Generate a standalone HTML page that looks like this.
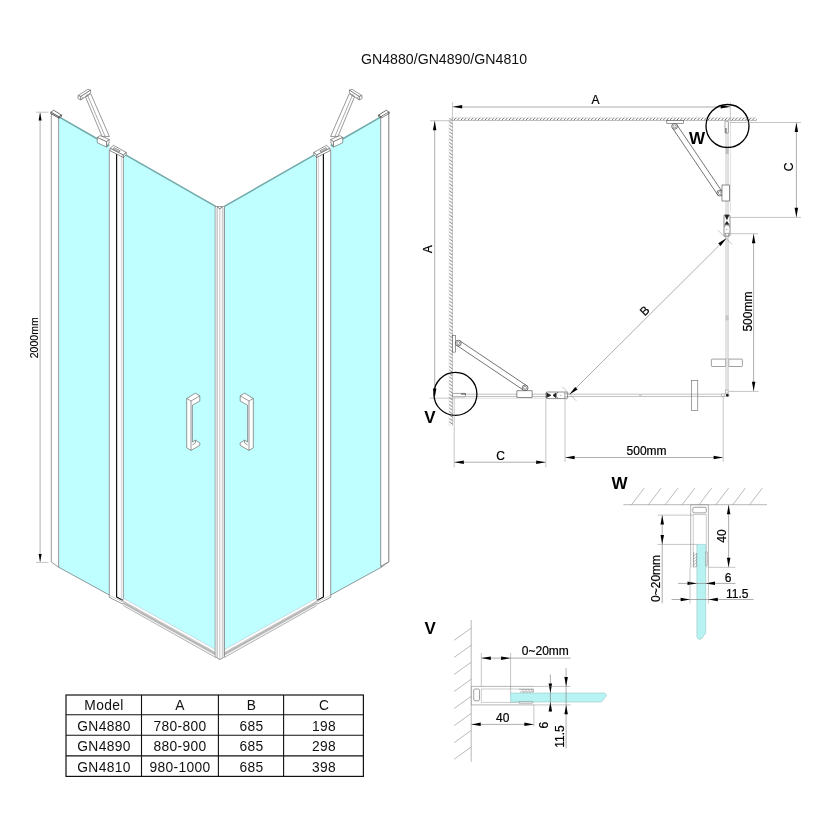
<!DOCTYPE html>
<html>
<head>
<meta charset="utf-8">
<title>GN4880/GN4890/GN4810</title>
<style>
html,body{margin:0;padding:0;background:#fff;}
body{width:830px;height:830px;overflow:hidden;font-family:"Liberation Sans",sans-serif;}
svg{display:block;will-change:transform;}
text{font-family:"Liberation Sans",sans-serif;fill:#111;}
.t12{font-size:12px;fill:#000;stroke:#000;stroke-width:0.2px;}
.b{font-weight:bold;font-size:16px;fill:#000;}
.ln{stroke:#555;stroke-width:0.6;fill:none;}
.dim{stroke:#777;stroke-width:0.6;fill:none;}
.ext{stroke:#8a8a8a;stroke-width:0.5;fill:none;}
.w{fill:#fff;stroke:#555;stroke-width:0.6;stroke-linejoin:round;}
.g{fill:#bfffff;stroke:none;}
.ar{fill:#000;stroke:none;}
.tb{font-size:13.8px;letter-spacing:0.35px;text-anchor:middle;fill:#1a1a1a;}
</style>
</head>
<body>
<svg width="830" height="830" viewBox="0 0 830 830">
<defs>
<pattern id="hH" patternUnits="userSpaceOnUse" x="453.3" y="117.4" width="3.43" height="3.3">
<path d="M0.2,3.3 L3.1,0" stroke="#444" stroke-width="0.75"/>
</pattern>
<pattern id="hV" patternUnits="userSpaceOnUse" x="448.7" y="121.2" width="4.2" height="3.45">
<path d="M0.2,0.3 L4.1,2.8" stroke="#505050" stroke-width="0.7"/>
</pattern>

<!-- half of the 3D shower enclosure (left side); mirrored about x=220 for right -->
<g id="half">
<!-- fixed glass -->
<polygon class="g" points="58.6,116.5 109.3,145.6 109.3,595 58.6,567.2"/>
<!-- door glass -->
<polygon class="g" points="123.4,153.4 216,206.4 216,649.8 123.4,598.2"/>
<!-- glass top edge -->
<path d="M59,116.9 L109.3,145.8 M123.4,153.6 L215.6,206.4" stroke="#74a8a8" stroke-width="1.6" fill="none"/>
<!-- glass bottom edge fixed -->
<path d="M58.6,567.2 L109.3,595" class="ln"/>
<!-- left post -->
<polygon class="w" points="51.3,113.5 58.6,117.6 58.6,567.2 51.3,562"/>
<polygon class="w" style="stroke:#333;stroke-width:0.7" points="50.8,112.3 53.6,110.2 61.5,115.1 58.9,116.8"/>
<polygon class="w" style="stroke:#333;stroke-width:0.7" points="50.8,112.3 58.9,116.8 58.9,118.1 50.8,113.6"/>
<polygon class="w" style="stroke:#333;stroke-width:0.7" points="58.9,116.8 61.5,115.1 61.5,116.4 58.9,118.1"/>
<!-- door profile -->
<polygon class="w" points="109.3,150 123.4,157 123.4,602.6 109.3,595.6"/>
<path d="M109.3,595.6 L109.3,597.4 L123.4,604.4 L123.4,602.6" class="w"/>
<path d="M116.6,154 L116.6,597 L122.8,600.2" stroke="#111" stroke-width="1.2" fill="none" stroke-linejoin="round"/>
<path d="M121.4,156.5 L121.4,602" stroke="#aaa" stroke-width="0.5" fill="none"/>
<!-- hinge top -->
<polygon class="w" points="110,148.3 113.6,145.3 126.3,152.5 123.3,155"/>
<polygon class="w" points="110,148.3 123.3,155 123.3,157.4 110,150.7"/>
<polygon class="w" points="123.3,155 126.3,152.5 126.3,154.6 123.3,157.4"/>
<path d="M114.2,147.6 L120.2,150.9 L118.8,152 L112.8,148.7 Z" fill="#ddd" stroke="#444" stroke-width="0.5"/>
<!-- bottom rail -->
<polygon points="123.4,598.3 216,649.8 216,658 123.4,605.6" fill="#fff" stroke="none"/>
<polygon points="123.4,601.8 216,653.3 216,655 123.4,603.4" fill="#b4b4b4" stroke="none"/>
<path d="M123.4,598.3 L216,649.8" stroke="#8ab" stroke-width="0.4" fill="none"/>
<path d="M123.4,601.2 L216,652.7 M123.4,603.8 L216,655.4" stroke="#888" stroke-width="0.5" fill="none"/>
<path d="M123.4,605.6 L216,657.6" stroke="#777" stroke-width="0.6" fill="none"/>
<!-- bracket -->
<polygon class="w" points="85.6,97 90.8,93.8 109.4,136.5 102,136.4"/>
<path d="M87.8,95.8 L105,136.3" stroke="#666" stroke-width="0.55" fill="none"/>
<polygon class="w" points="78,95.6 87.9,89.3 90.6,90.1 80.9,96.5"/>
<polygon class="w" points="78,95.6 80.9,96.5 80.9,99.9 78,98.6"/>
<polygon class="w" points="80.9,96.5 90.6,90.1 90.6,92.8 80.9,99.9"/>
<path d="M82.4,96.9 L82.4,98.6 L84,97.6 M86.6,94.3 L86.6,95.9 L88.2,94.9" stroke="#777" stroke-width="0.45" fill="none"/>
<polygon class="w" points="97.3,137.5 100,135.6 109.1,139.4 106.7,141.8"/>
<polygon class="w" points="97.3,137.5 106.7,141.8 106.7,147.1 97.3,142.8"/>
<polygon class="w" points="106.7,141.8 109.1,139.4 109.1,142.8 106.7,147.1"/>
<!-- handle -->
<path class="w" d="M186.7,398.4 L195.4,393.2 L199.8,395.8 L199.8,401 L192.4,405.2 L192.4,442 L195.4,440.2 L199.8,442.8 L199.8,445.4 L191,450.4 L186.7,447.8 Z"/>
<path class="ln" d="M186.7,398.4 L191,401 L199.8,395.8 M191,401 L191,450.4 M195.4,440.2 L195.4,443 L192.4,444.8" stroke="#888"/>
</g>
</defs>

<rect x="0" y="0" width="830" height="830" fill="#fff"/>

<!-- ============ TITLE ============ -->
<text id="title" x="444" y="64" text-anchor="middle" font-size="14.5" textLength="166" lengthAdjust="spacingAndGlyphs">GN4880/GN4890/GN4810</text>

<!-- ============ 3D VIEW ============ -->
<g id="iso">
<use href="#half"/>
<use href="#half" transform="translate(440,0) scale(-1,1)"/>
<polygon class="w" points="380.7,117.5 388.7,113.7 388.7,561.8 380.7,566.3"/>
<polygon class="w" points="388.5,112.1 381.7,116.2 381.7,117.9 388.5,113.8"/>
<!-- centre pole -->
<polygon class="w" points="215.2,206.6 224.5,206.6 224.5,656.6 219.8,659.6 215.2,656.6"/>
<path d="M216.1,207.8 V657" stroke="#d8d8d8" stroke-width="1.2" fill="none"/><path d="M223.4,207.8 V657" stroke="#e2e2e2" stroke-width="1.2" fill="none"/><path d="M217.4,207.6 L217.4,657.6 M219.8,209 L219.8,659.4 M222.3,207.6 L222.3,657.6" stroke="#909090" stroke-width="0.5" fill="none"/>
<path d="M217,206.8 L219.8,208.8 L222.6,206.8" stroke="#444" stroke-width="0.7" fill="none"/>
<!-- height dim -->
<path class="ext" d="M36,112.2 H48.6 M36,562.4 H48.6"/>
<path d="M40.1,113 V561.5" stroke="#a0a0a0" stroke-width="0.8" fill="none"/>
<polygon class="ar" points="40.1,112.4 38.6,120.4 41.6,120.4"/>
<polygon class="ar" points="40.1,561.9 41.6,553.9 38.6,553.9"/>
<text font-size="10.5" transform="translate(38.3,337.8) rotate(-90)" text-anchor="middle" style="fill:#000;stroke:#000;stroke-width:0.15px">2000mm</text>
</g>

<!-- ============ TABLE ============ -->
<g id="table">
<rect x="66" y="695" width="297.4" height="81.4" fill="#fff" stroke="#111" stroke-width="1.2"/>
<path d="M66,714.7 H363.4 M66,735.3 H363.4 M66,755.9 H363.4 M141.5,695 V776.4 M218.4,695 V776.4 M283.6,695 V776.4" stroke="#111" stroke-width="1.1" fill="none"/>
<g class="tb">
<text x="104" y="710.4">Model</text><text x="180" y="710.4">A</text><text x="251.5" y="710.4">B</text><text x="324.1" y="710.4">C</text>
<text x="104" y="730.8">GN4880</text><text x="180" y="730.8">780-800</text><text x="251.5" y="730.8">685</text><text x="324.1" y="730.8">198</text>
<text x="104" y="751.4">GN4890</text><text x="180" y="751.4">880-900</text><text x="251.5" y="751.4">685</text><text x="324.1" y="751.4">298</text>
<text x="104" y="771.6">GN4810</text><text x="180" y="771.6">980-1000</text><text x="251.5" y="771.6">685</text><text x="324.1" y="771.6">398</text>
</g>
</g>

<!-- ============ PLAN VIEW ============ -->
<g id="plan">
<!-- walls -->
<rect x="452.4" y="117.4" width="304.2" height="3.3" fill="url(#hH)"/>
<rect x="448.7" y="118" width="4.2" height="307.5" fill="url(#hV)"/>
<path d="M452.4,120.5 H756.6 M452.4,120.5 V425.5" stroke="#999" stroke-width="0.5" fill="none"/>
<!-- glass lines -->
<rect x="725.5" y="120.7" width="3.3" height="275" fill="#e2e2e2" stroke="#cfcfcf" stroke-width="0.35"/>

<rect x="452.4" y="394.1" width="276.6" height="2.2" fill="#fff" stroke="#858585" stroke-width="0.5"/>

<rect x="639" y="394.2" width="2.6" height="2.2" fill="#ccc"/>

<path d="M730.4,120 V212.6 M453,398.2 H545" stroke="#bdbdbd" stroke-width="0.5" fill="none"/>
<!-- dim A horizontal -->
<path class="ext" d="M452.4,102.3 V120 M730.3,102.3 V120"/>
<path class="dim" d="M453,107 H729.8"/>
<polygon class="ar" points="452.8,106.8 462.2,108.5 462.2,105.0"/>
<polygon class="ar" points="730.1,106.8 720.7,105.0 720.7,108.5"/>
<text class="t12" x="595.4" y="104" text-anchor="middle">A</text>
<!-- dim A vertical -->
<path class="ext" d="M430,120.7 H452 M429.5,398.2 H453"/>
<path class="dim" d="M434.7,121 V397.5"/>
<polygon class="ar" points="434.7,120.9 432.9,130.3 436.4,130.3"/>
<polygon class="ar" points="434.7,397.8 436.4,388.4 432.9,388.4"/>
<text class="t12" transform="translate(432.3,249.3) rotate(-90)" text-anchor="middle">A</text>
<!-- circles -->
<circle cx="727.5" cy="126" r="21.5" fill="none" stroke="#000" stroke-width="1.3"/>
<circle cx="455.4" cy="393.9" r="21.5" fill="none" stroke="#000" stroke-width="1.3"/>
<text class="b" x="697.1" y="144.4" text-anchor="middle" style="font-size:17px">W</text>
<text class="b" x="429.9" y="422.6" text-anchor="middle" style="font-size:17px">V</text>
<!-- inside circle W -->
<rect x="725" y="121.2" width="3.3" height="12" fill="#fff" stroke="#555" stroke-width="0.5" rx="0.8"/>
<path d="M726,128 V133" stroke="#222" stroke-width="0.8"/>
<!-- inside circle V -->
<rect x="452.6" y="393.4" width="12.8" height="3.4" fill="#fff" stroke="#555" stroke-width="0.5" rx="0.8"/>
<path d="M461,394 H466" stroke="#222" stroke-width="0.8"/>
<!-- bracket top -->
<rect x="666.8" y="120.6" width="16.5" height="2.9" fill="#fff" stroke="#444" stroke-width="0.55"/>
<polygon points="676.9,124.8 722.1,191.6 717.5,194.6 672.3,127.8" fill="#fff" stroke="#3a3a3a" stroke-width="0.7"/>
<circle cx="674.6" cy="126.3" r="2.9" fill="#fff" stroke="#444" stroke-width="0.75"/>
<circle cx="674.6" cy="126.3" r="1.5" fill="#fff" stroke="#555" stroke-width="0.6"/>
<circle cx="719.8" cy="193.1" r="2.9" fill="#fff" stroke="#444" stroke-width="0.75"/>
<circle cx="719.8" cy="193.1" r="1.5" fill="#fff" stroke="#555" stroke-width="0.6"/>
<rect x="722" y="185" width="7.3" height="16" fill="#fff" stroke="#444" stroke-width="0.6"/>
<!-- bracket left -->
<rect x="452.5" y="335.7" width="2.9" height="16.4" fill="#fff" stroke="#444" stroke-width="0.55"/>
<polygon points="456.8,345.4 523.6,390.2 526.6,385.6 459.8,340.8" fill="#fff" stroke="#3a3a3a" stroke-width="0.7"/>
<circle cx="458.3" cy="343.1" r="2.9" fill="#fff" stroke="#444" stroke-width="0.75"/>
<circle cx="458.3" cy="343.1" r="1.5" fill="#fff" stroke="#555" stroke-width="0.6"/>
<circle cx="525.1" cy="387.9" r="2.9" fill="#fff" stroke="#444" stroke-width="0.75"/>
<circle cx="525.1" cy="387.9" r="1.5" fill="#fff" stroke="#555" stroke-width="0.6"/>
<rect x="516.9" y="390.8" width="15.2" height="6.9" fill="#fff" stroke="#444" stroke-width="0.6"/>
<!-- hinge right -->
<rect x="724" y="214.6" width="6" height="21.6" rx="1.2" fill="#fff" stroke="#444" stroke-width="0.6"/>
<path d="M725,215 L726.9,219.4 L728.9,215 M725,224.6 L726.9,221.6 L728.9,224.6" fill="#222" stroke="#222" stroke-width="0.9"/>
<path d="M724.2,226.4 Q726.9,223 729.8,226.4" fill="none" stroke="#333" stroke-width="0.8"/>
<circle cx="726.9" cy="229.4" r="0.5" fill="#777"/>
<path d="M724.4,233.4 H729.6 M725.6,233.4 V236 M728.4,233.4 V236" stroke="#555" stroke-width="0.5" fill="none"/>
<!-- hinge bottom -->
<rect x="546" y="392" width="21.6" height="6.6" rx="1.2" fill="#fff" stroke="#444" stroke-width="0.6"/>
<path d="M546.4,393 L550.8,395.3 L546.4,397.6 M556,393 L553,395.3 L556,397.6" fill="#222" stroke="#222" stroke-width="0.9"/>
<path d="M557.8,392.2 Q554.4,395.3 557.8,398.4" fill="none" stroke="#333" stroke-width="0.8"/>
<circle cx="560.8" cy="395.3" r="0.5" fill="#777"/>
<path d="M564.8,392.4 V398.2 M564.8,393.8 H567.4 M564.8,396.8 H567.4" stroke="#555" stroke-width="0.5" fill="none"/>
<!-- pivot crosses -->
<path d="M718.1,230.4 L732.2,244.5" stroke="#888" stroke-width="0.5" fill="none"/>
<path d="M562.2,386.7 L576.3,400.8" stroke="#888" stroke-width="0.5" fill="none"/>
<!-- B diagonal -->
<path class="dim" d="M725.6,239 L570.2,393.8"/>
<polygon class="ar" points="726.4,238.3 718.2,243.3 720.6,245.9"/>
<polygon class="ar" points="569.4,394.6 577.6,389.6 575.2,387.0"/>
<text class="t12" transform="translate(647.6,313.6) rotate(-45)" text-anchor="middle">B</text>
<!-- handles -->
<rect x="711.4" y="359.1" width="31" height="7.4" rx="0.8" fill="#fff" stroke="#555" stroke-width="0.55"/>
<rect x="691.3" y="380.3" width="6.5" height="30.3" fill="#fff" stroke="#555" stroke-width="0.55"/>
<path d="M691.3,394.1 H697.8 M691.3,396.3 H697.8" stroke="#858585" stroke-width="0.5"/>
<rect x="725.5" y="358.6" width="3.3" height="8.4" fill="#e2e2e2"/>
<path d="M725.6,359.1 V366.5 M728.8,359.1 V366.5" stroke="#777" stroke-width="0.5"/>
<rect x="725.6" y="315.4" width="3.1" height="5" fill="#c6c6c6"/><rect x="725.6" y="148" width="3.1" height="6" fill="#bdbdbd"/>
<!-- corner -->
<rect x="725.4" y="390" width="2.6" height="3" fill="#fff" stroke="#888" stroke-width="0.45"/>
<rect x="721.4" y="394" width="3.4" height="2.4" fill="#fff" stroke="#888" stroke-width="0.45"/>
<circle cx="727.3" cy="395.2" r="1.3" fill="#111"/>
<!-- dim C right -->
<path class="ext" d="M730,122.5 H801 M730,217.4 H801"/>
<path class="dim" d="M796.4,123 V217"/>
<polygon class="ar" points="796.4,122.7 794.6,132.1 798.1,132.1"/>
<polygon class="ar" points="796.4,217.2 798.1,207.8 794.6,207.8"/>
<text class="t12" transform="translate(793.2,167) rotate(-90)" text-anchor="middle">C</text>
<!-- dim 500 right -->
<path class="ext" d="M730,233.7 H758 M729,391.4 H758.7"/>
<path class="dim" d="M753.6,234 V391"/>
<polygon class="ar" points="753.6,233.9 751.9,243.3 755.4,243.3"/>
<polygon class="ar" points="753.6,391.1 755.4,381.7 751.9,381.7"/>
<text class="t12" transform="translate(751.6,311.6) rotate(-90)" text-anchor="middle">500mm</text>
<!-- dim C bottom -->
<path class="ext" d="M454.2,397.7 V467.2 M545.8,398.6 V467.2"/>
<path class="dim" d="M454.6,462.2 H545.4"/>
<polygon class="ar" points="454.4,462.2 463.8,464.0 463.8,460.5"/>
<polygon class="ar" points="545.6,462.2 536.2,460.5 536.2,464.0"/>
<text class="t12" x="500.5" y="459.8" text-anchor="middle">C</text>
<!-- dim 500 bottom -->
<path class="ext" d="M565,399 V462 M723.2,396.4 V461.7"/>
<path class="dim" d="M565.4,457.5 H722.8"/>
<polygon class="ar" points="565.2,457.5 574.6,459.3 574.6,455.8"/>
<polygon class="ar" points="723.0,457.5 713.6,455.8 713.6,459.3"/>
<text class="t12" x="646.6" y="455" text-anchor="middle">500mm</text>
</g>

<!-- ============ DETAIL W ============ -->
<g id="detW">
<text class="b" x="619.5" y="489.4" text-anchor="middle" style="font-size:17px">W</text>
<path d="M623.4,504.7 H767" stroke="#888" stroke-width="0.6" fill="none"/>
<path d="M631.6,504.7 l12.6,-16.6 M648.5,504.7 l12.6,-16.6 M665.3,504.7 l12.6,-16.6 M682.2,504.7 l12.6,-16.6 M699.1,504.7 l12.6,-16.6 M716.0,504.7 l12.6,-16.6 M732.8,504.7 l12.6,-16.6 M749.7,504.7 l12.6,-16.6" stroke="#777" stroke-width="0.5" fill="none"/>
<!-- profile -->
<path d="M690.7,567.6 V504.9 H708.4 V567.6" fill="#fff" stroke="#777" stroke-width="0.55"/>
<path d="M693.3,567.6 V514.5 H706.3 V567.6" fill="#fff" stroke="#999" stroke-width="0.5"/>
<rect x="692.8" y="507.3" width="13.5" height="5.6" rx="1.4" fill="#fff" stroke="#555" stroke-width="0.55"/>
<!-- glass -->
<path d="M696.9,544.4 H705.7 V633.4 Q703.6,634.6 703.2,636.6 Q702.6,638.8 700,639.4 Q697.6,639.2 696.9,637.2 Z" fill="#b8f3f3" stroke="#8bbcbc" stroke-width="0.5"/>
<!-- seals -->
<path d="M693.6,552 V566.8 L696.6,566.8 L696.6,553 M693.8,556 L696.4,553.4 M693.8,559 L696.4,556.4 M693.8,562 L696.4,559.4 M693.8,565 L696.4,562.4" stroke="#777" stroke-width="0.5" fill="none"/>
<rect x="705.8" y="552" width="1.5" height="13.5" fill="#ddd" stroke="#888" stroke-width="0.4"/>
<!-- dim 0~20mm -->
<path class="ext" d="M657.5,515.1 H693.3 M657.5,544.4 H696.9"/>
<path class="dim" d="M662.2,515.4 V603.4"/>
<polygon class="ar" points="662.2,515.2 660.5,524.6 664.0,524.6"/>
<polygon class="ar" points="662.2,544.3 664.0,534.9 660.5,534.9"/>
<text class="t12" transform="translate(659.6,578.4) rotate(-90)" text-anchor="middle">0~20mm</text>
<!-- dim 40 -->
<path class="ext" d="M708.4,567.3 H735.5"/>
<path class="dim" d="M728.6,505 V567"/>
<polygon class="ar" points="728.6,504.9 726.9,514.3 730.4,514.3"/>
<polygon class="ar" points="728.6,567.2 730.4,557.8 726.9,557.8"/>
<text class="t12" transform="translate(725.8,536.1) rotate(-90)" text-anchor="middle">40</text>
<!-- dim 6 -->
<path class="dim" d="M678.1,583.4 H735.5"/>
<polygon class="ar" points="696.9,583.4 687.5,581.6 687.5,585.1"/>
<polygon class="ar" points="705.6,583.4 715.0,585.1 715.0,581.6"/>
<text class="t12" x="728" y="582" text-anchor="middle">6</text>
<!-- dim 11.5 -->
<path class="ext" d="M690,567.6 V603.4 M708.4,567.6 V603.4"/>
<path class="dim" d="M671.6,599.5 H753.5"/>
<polygon class="ar" points="690.0,599.5 680.6,597.8 680.6,601.2"/>
<polygon class="ar" points="708.4,599.5 717.8,601.2 717.8,597.8"/>
<text class="t12" x="737.3" y="598.2" text-anchor="middle">11.5</text>
</g>

<!-- ============ DETAIL V ============ -->
<g id="detV">
<text class="b" x="430.1" y="633.5" text-anchor="middle" style="font-size:17px">V</text>
<path d="M471.2,620.1 V761.8" stroke="#888" stroke-width="0.6" fill="none"/>
<path d="M471.2,628.1 l-17,12.2 M471.2,645.2 l-17,12.2 M471.2,662.2 l-17,12.2 M471.2,679.2 l-17,12.2 M471.2,696.3 l-17,12.2 M471.2,713.4 l-17,12.2 M471.2,730.4 l-17,12.2 M471.2,747 l-17,12.2" stroke="#777" stroke-width="0.5" fill="none"/>
<!-- profile -->
<path d="M533.9,686.4 H471.4 V704.9 H533.9" fill="#fff" stroke="#777" stroke-width="0.55"/>
<path d="M533.9,689 H481.3 V702.4 H533.9" fill="#fff" stroke="#999" stroke-width="0.5"/>
<rect x="473.7" y="689" width="5.8" height="11.8" rx="1.4" fill="#fff" stroke="#555" stroke-width="0.55"/>
<!-- glass -->
<path d="M510.6,693 H604.6 Q606.6,694.4 606.4,696.2 Q604,697.6 603.4,699.6 Q603,701.4 600.6,702 H510.6 Z" fill="#b8f3f3" stroke="#8bbcbc" stroke-width="0.5"/>
<!-- seals -->
<path d="M519,689.4 H533.4 V692 H520 M522,689.6 L524.6,692 M525,689.6 L527.6,692 M528,689.6 L530.6,692 M531,689.6 L533.2,691.6" stroke="#777" stroke-width="0.5" fill="none"/>
<rect x="519" y="701.8" width="13.5" height="1.5" fill="#ddd" stroke="#888" stroke-width="0.4"/>
<!-- dim 0~20mm -->
<path class="ext" d="M481.3,653 V686.4 M510.6,653 V693"/>
<path class="dim" d="M481.6,658.1 H570.6"/>
<polygon class="ar" points="481.4,658.1 490.8,659.9 490.8,656.4"/>
<polygon class="ar" points="510.5,658.1 501.1,656.4 501.1,659.9"/>
<text class="t12" x="545.3" y="655.4" text-anchor="middle">0~20mm</text>
<!-- dim 40 -->
<path class="ext" d="M533.9,704.9 V726.4"/>
<path class="dim" d="M471.5,724.4 H533.6"/>
<polygon class="ar" points="471.3,724.4 480.7,726.1 480.7,722.6"/>
<polygon class="ar" points="533.8,724.4 524.4,722.6 524.4,726.1"/>
<text class="t12" x="502.8" y="722.2" text-anchor="middle">40</text>
<!-- dim 6 -->
<path class="dim" d="M550.4,674.5 V711.8"/>
<polygon class="ar" points="550.4,693 552.1,683.6 548.6,683.6"/>
<polygon class="ar" points="550.4,702 548.6,711.4 552.1,711.4"/>
<text class="t12" transform="translate(548.4,725.1) rotate(-90)" text-anchor="middle">6</text>
<!-- dim 11.5 -->
<path class="ext" d="M533.9,686.4 H570.6 M533.9,704.9 H570.6"/>
<path class="dim" d="M566.1,668.2 V748.7"/>
<polygon class="ar" points="566.1,686.4 567.9,677.0 564.4,677.0"/>
<polygon class="ar" points="566.1,704.9 564.4,714.3 567.9,714.3"/>
<text class="t12" transform="translate(564,736.5) rotate(-90)" text-anchor="middle">11.5</text>
</g>
</svg>
</body>
</html>
